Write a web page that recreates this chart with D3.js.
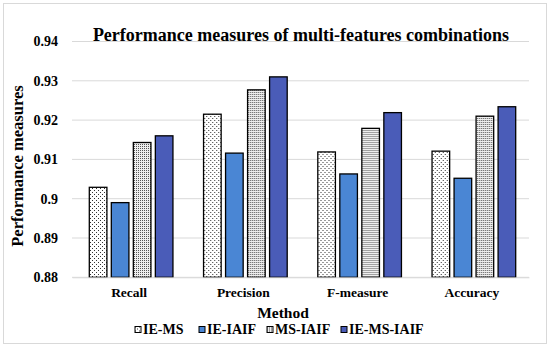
<!DOCTYPE html>
<html>
<head>
<meta charset="utf-8">
<script src="https://cdn.jsdelivr.net/npm/d3@7"></script>
<style>
  body { margin: 0; background: #fff; }
  text { font-family: "Liberation Serif", "Times New Roman", serif; font-weight: bold; fill: #000; }
</style>
</head>
<body>
<div id="app"></div>
<script>
// data
const categories = ['Recall', 'Precision', 'F-measure', 'Accuracy'];
const seriesNames = ['IE-MS', 'IE-IAIF', 'MS-IAIF', 'IE-MS-IAIF'];
const ieMs = [0.9029, 0.9215, 0.9119, 0.9121];
const ieIaif = [0.8990, 0.9116, 0.9063, 0.9052];
const msIaif = [0.9143, 0.9277, 0.9179, 0.9210];
const ieMsIaif = [0.9160, 0.9310, 0.9219, 0.9234];
const yTicks = [0.88, 0.89, 0.9, 0.91, 0.92, 0.93, 0.94];

const seriesValues = [ieMs, ieIaif, msIaif, ieMsIaif];

const width = 550;
const height = 347;
const margin = { top: 41.5, right: 21, bottom: 69.7, left: 72 };

const svg = d3.create('svg').attr('width', width).attr('height', height);

// patterns for the two textured series
const defs = svg.append('defs');
const sparse = defs.append('pattern').attr('id', 'dotsSparse')
	.attr('patternUnits', 'userSpaceOnUse').attr('width', 4).attr('height', 4);
sparse.append('rect').attr('width', 4).attr('height', 4).attr('fill', '#fff');
sparse.append('rect').attr('x', 0).attr('y', 0).attr('width', 1).attr('height', 1).attr('fill', '#333');
sparse.append('rect').attr('x', 2).attr('y', 2).attr('width', 1).attr('height', 1).attr('fill', '#333');

const dense = defs.append('pattern').attr('id', 'dotsDense')
	.attr('patternUnits', 'userSpaceOnUse').attr('width', 2).attr('height', 2);
dense.append('rect').attr('width', 2).attr('height', 2).attr('fill', '#eee');
dense.append('rect').attr('x', 0).attr('y', 0).attr('width', 1).attr('height', 1).attr('fill', '#555');

const fills = ['url(#dotsSparse)', '#4a86d4', 'url(#dotsDense)', '#4a5cb8'];

// outer border
svg.append('rect').attr('x', 3.5).attr('y', 3.5).attr('width', 543).attr('height', 340)
	.attr('fill', '#fff').attr('stroke', '#d9d9d9');

const x0 = d3.scaleBand().domain(categories).range([margin.left, width - margin.right]).padding(0);
const x1 = d3.scaleBand().domain(seriesNames)
	.range([17.3, x0.bandwidth() - 13.3]).paddingInner(0.2).paddingOuter(0);
const y = d3.scaleLinear().domain([0.88, 0.94]).range([height - margin.bottom, margin.top]);

// gridlines
svg.append('g').selectAll('line').data(yTicks).join('line')
	.attr('x1', margin.left).attr('x2', width - margin.right)
	.attr('y1', (d) => y(d)).attr('y2', (d) => y(d))
	.attr('stroke', '#d9d9d9').attr('stroke-width', 1);

// y axis labels
const yAxis = svg.append('g').attr('transform', `translate(${margin.left - 11},0)`)
	.call(d3.axisLeft(y).tickValues(yTicks).tickSize(0).tickFormat(d3.format('')));
yAxis.select('.domain').remove();
yAxis.selectAll('text').attr('font-size', 14).attr('font-family', null).attr('fill', '#000');

// bars
const groups = svg.append('g').selectAll('g').data(categories).join('g')
	.attr('transform', (d) => `translate(${x0(d)},0)`);

groups.selectAll('rect')
	.data((d, i) => seriesNames.map((s, j) => ({ s, j, v: seriesValues[j][i] })))
	.join('rect')
	.attr('x', (d) => x1(d.s))
	.attr('width', x1.bandwidth())
	.attr('y', (d) => y(d.v))
	.attr('height', (d) => y(0.88) - y(d.v))
	.attr('fill', (d) => fills[d.j])
	.attr('stroke', '#000').attr('stroke-width', 1.3);

// x axis labels
const xAxis = svg.append('g').attr('transform', `translate(0,${y(0.88)})`)
	.call(d3.axisBottom(x0).tickSize(0).tickPadding(10));
xAxis.select('.domain').attr('stroke', '#d9d9d9');
xAxis.selectAll('text').attr('font-size', 13.5).attr('font-family', null).attr('fill', '#000');

// title
svg.append('text').attr('x', 301).attr('y', 41).attr('text-anchor', 'middle')
	.attr('font-size', 18).text('Performance measures of multi-features combinations');

// axis titles
svg.append('text').attr('transform', 'translate(23,166) rotate(-90)').attr('text-anchor', 'middle')
	.attr('font-size', 16.5).text('Performance measures');
svg.append('text').attr('x', 283).attr('y', 318).attr('text-anchor', 'middle')
	.attr('font-size', 15.5).text('Method');

// legend
const legendX = [135, 199, 267, 341];
const legend = svg.append('g').selectAll('g').data(seriesNames).join('g')
	.attr('transform', (d, i) => `translate(${legendX[i]},326.5)`);
legend.append('rect').attr('width', 6).attr('height', 6)
	.attr('fill', (d, i) => fills[i]).attr('stroke', '#000').attr('stroke-width', 1);
legend.append('text').attr('x', 8).attr('y', 7.5).attr('font-size', 14).text((d) => d);

document.getElementById('app').append(svg.node());
</script>
</body>
</html>
